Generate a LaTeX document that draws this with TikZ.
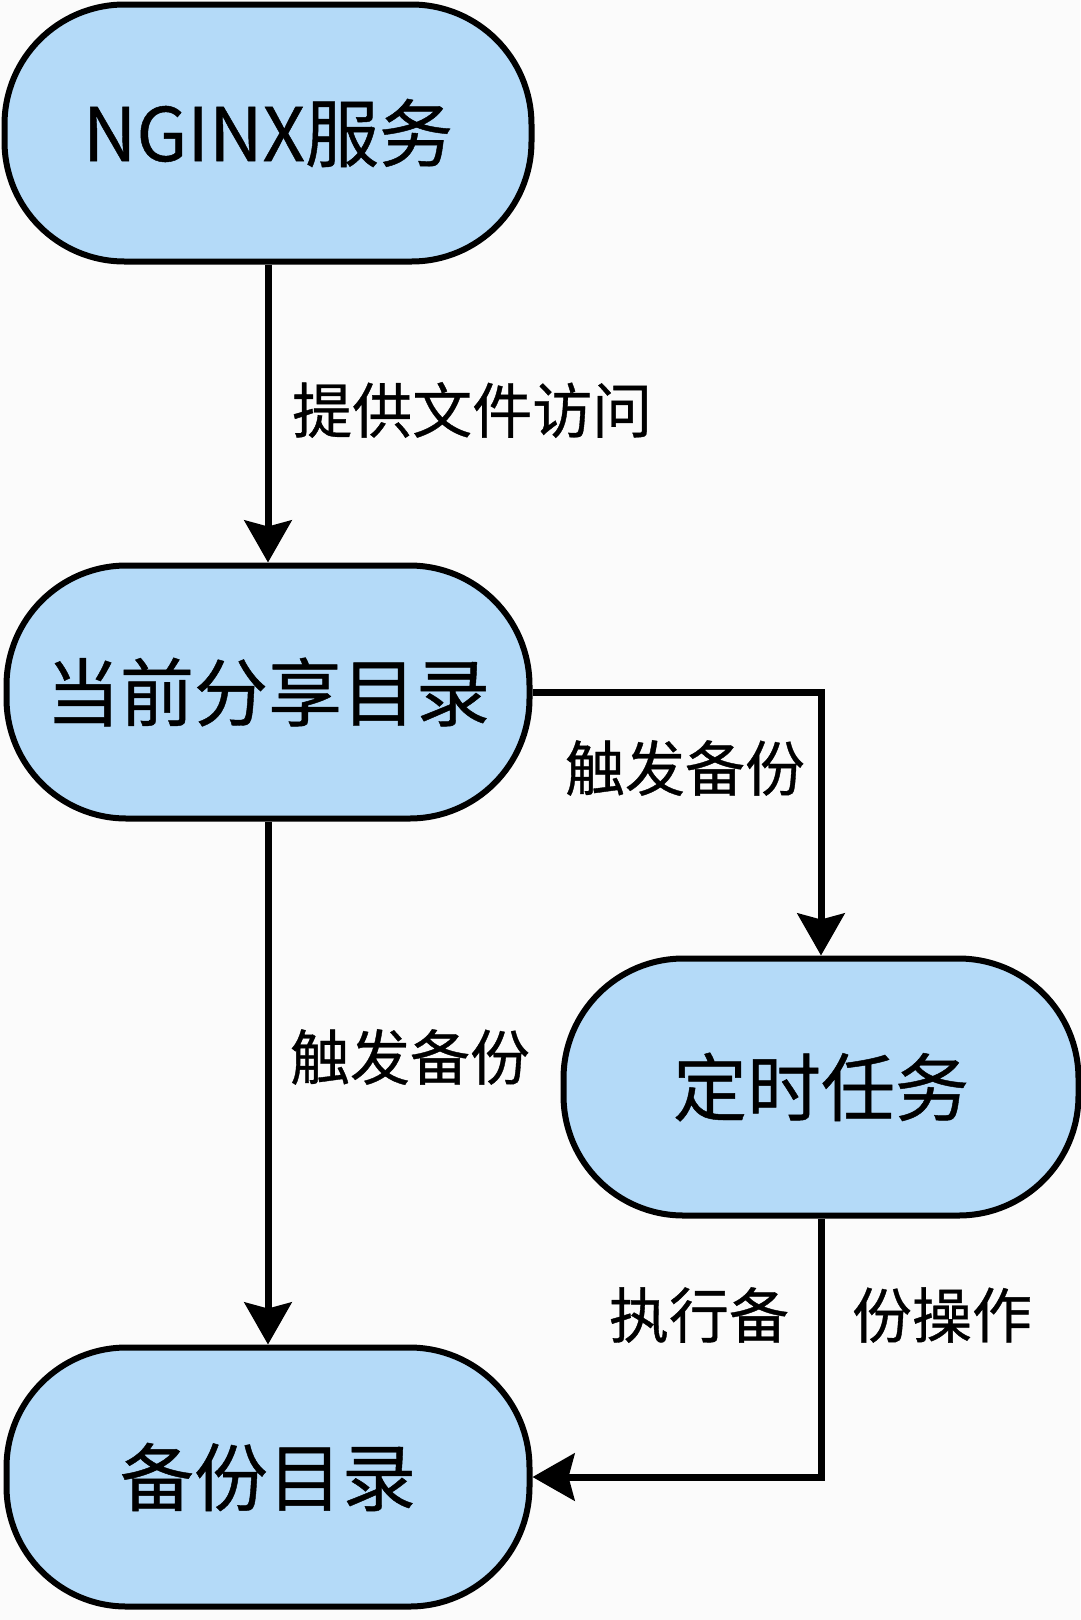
\documentclass[tikz,border=0pt]{standalone}
\usepackage{fontspec}
\setmainfont{Noto Sans CJK SC}[FakeBold=0.6]
\usetikzlibrary{arrows.meta}
\definecolor{boxfill}{RGB}{180,218,248}
\definecolor{bgcol}{RGB}{251,251,251}
\begin{document}
\begin{tikzpicture}[x=1pt,y=-1pt,
  procbox/.style={draw=black, line width=6pt, fill=boxfill, rounded corners=120pt,
    inner sep=0pt, font=\fontsize{74}{80}\selectfont},
  conn/.style={line width=7pt, -{Stealth[length=42pt,width=47pt,inset=6pt]}},
  lbl/.style={inner sep=0pt, font=\fontsize{60}{66}\selectfont}]
\fill[bgcol] (0,0) rectangle (1080,1620);
\useasboundingbox (0,0) rectangle (1080,1620);
\node[procbox, minimum width=527pt, minimum height=257pt] (n1) at (268,133) {NGINX服务};
\node[procbox, minimum width=523pt, minimum height=253pt] (n2) at (268,692) {当前分享目录};
\node[procbox, minimum width=515pt, minimum height=257pt] (n3) at (821,1087) {定时任务};
\node[procbox, minimum width=523pt, minimum height=259pt] (n4) at (268,1477) {备份目录};
\draw[conn] (n1.south) -- (n2.north);
\draw[conn] (n2.east) -| (n3.north);
\draw[conn] (n2.south) -- (n4.north);
\draw[conn] (n3.south) |- (n4.east);
\node[lbl, anchor=west] (l1) at (292,410) {提供文件访问};
\node[lbl] (l2) at (685,768) {触发备份};
\node[lbl] (l3) at (410,1057) {触发备份};
\node[lbl] (l4a) at (699,1315) {执行备};
\node[lbl] (l4b) at (942,1315) {份操作};
\end{tikzpicture}
\end{document}
